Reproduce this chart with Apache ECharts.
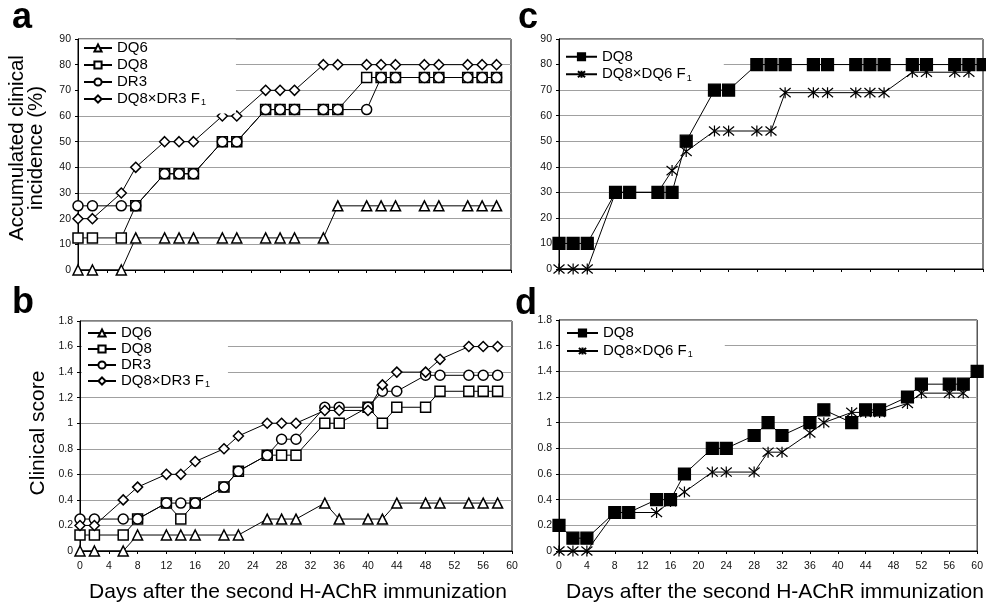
<!DOCTYPE html>
<html><head><meta charset="utf-8">
<script src="https://cdn.jsdelivr.net/npm/echarts@6/dist/echarts.min.js"></script>
<style>html,body{margin:0;padding:0;background:#fff}#c{width:986px;height:606px}</style>
</head><body><div id="c"></div>
<script>
// ---------- data ----------
const daysAB = [0,2,6,8,12,14,16,20,22,26,28,30,34,36,40,42,44,48,50,54,56,58];
// panel a: accumulated clinical incidence (%)
const incDQ6   = [0,0,0,12.5,12.5,12.5,12.5,12.5,12.5,12.5,12.5,12.5,12.5,25,25,25,25,25,25,25,25,25];
const incDQ8   = [12.5,12.5,12.5,25,37.5,37.5,37.5,50,50,62.5,62.5,62.5,62.5,62.5,75,75,75,75,75,75,75,75];
const incDR3   = [25,25,25,25,37.5,37.5,37.5,50,50,62.5,62.5,62.5,62.5,62.5,62.5,75,75,75,75,75,75,75];
const incDQ8DR3= [20,20,30,40,50,50,50,60,60,70,70,70,80,80,80,80,80,80,80,80,80,80];
// panel b: clinical score
const scDQ6    = [0,0,0,0.125,0.125,0.125,0.125,0.125,0.125,0.25,0.25,0.25,0.375,0.25,0.25,0.25,0.375,0.375,0.375,0.375,0.375,0.375];
const scDQ8    = [0.125,0.125,0.125,0.25,0.375,0.25,0.375,0.5,0.625,0.75,0.75,0.75,1.0,1.0,1.125,1.0,1.125,1.125,1.25,1.25,1.25,1.25];
const scDR3    = [0.25,0.25,0.25,0.25,0.375,0.375,0.375,0.5,0.625,0.75,0.875,0.875,1.125,1.125,1.125,1.25,1.25,1.375,1.375,1.375,1.375,1.375];
const scDQ8DR3 = [0.2,0.2,0.4,0.5,0.6,0.6,0.7,0.8,0.9,1.0,1.0,1.0,1.1,1.1,1.1,1.3,1.4,1.4,1.5,1.6,1.6,1.6];
// panels c, d
const daysCD  = [0,2,4,8,10,14,16,18,22,24,28,30,32,36,38,42,44,46,50,52,56,58,60];
const incCDQ8 = [10,10,10,30,30,30,30,50,70,70,80,80,80,80,80,80,80,80,80,80,80,80,80];
const incCF1  = [0,0,0,30,30,30,38.5,46,54,54,54,54,69,69,69,69,69,69,77,77,77,77];
const scDDQ8  = [0.2,0.1,0.1,0.3,0.3,0.4,0.4,0.6,0.8,0.8,0.9,1.0,0.9,1.0,1.1,1.0,1.1,1.1,1.2,1.3,1.3,1.3,1.4];
const scDF1   = [0,0,0,0.3,0.3,0.3,0.385,0.46,0.615,0.615,0.615,0.77,0.77,0.92,1.0,1.08,1.08,1.08,1.15,1.23,1.23,1.23];

const xTicks = {min:0, max:60, interval:4};
const nameDQ6 = 'DQ6', nameDQ8 = 'DQ8', nameDR3 = 'DR3', nameF1a = 'DQ8×DR3 F1', nameF1c = 'DQ8×DQ6 F1';

// ---------- helpers ----------
const FONT = '"Liberation Sans", Arial, Helvetica, sans-serif';
const STAR = 'path://M0,0L10,10M10,0L0,10M5,-1L5,11';
function pairs(days, vals){ return vals.map((v,i)=>[days[i], v]); }
function ser(panel, name, idx, days, vals, symbol, size, filled){
  return {
    type:'line', name: panel + ':' + name, xAxisIndex: idx, yAxisIndex: idx,
    data: pairs(days, vals), symbol: symbol, symbolSize: size, showSymbol:true,
    lineStyle:{color:'#000', width:1},
    itemStyle: filled ? {color:'#000', borderColor:'#000', borderWidth:1.2}
                      : {color:'#fff', borderColor:'#000', borderWidth:1.5},
    emphasis:{disabled:true}, z: 3
  };
}
function grid(left, top, width, height){
  return {left, top, width, height, show:true, borderColor:'#000', borderWidth:1, backgroundColor:'transparent'};
}
function xAxis(idx, labels){
  return {type:'value', gridIndex: idx, min:xTicks.min, max:xTicks.max, interval:xTicks.interval,
    axisLine:{show:true, lineStyle:{color:'#000', width:1}},
    axisTick:{show:true, length:3, lineStyle:{color:'#000'}},
    axisLabel:{show:labels, margin:10, fontSize:10.5, color:'#111', fontFamily:FONT},
    splitLine:{show:false}};
}
function yAxis(idx, max, interval){
  return {type:'value', gridIndex: idx, min:0, max, interval,
    axisLine:{show:true, lineStyle:{color:'#000', width:1}},
    axisTick:{show:true, length:3, lineStyle:{color:'#000'}},
    axisLabel:{margin:7, fontSize:10.5, color:'#111', fontFamily:FONT},
    splitLine:{show:true, lineStyle:{color:'#a0a0a0', width:1}}};
}
function legend(panel, names, left, top, pad, itemWidth, lineH){
  return {
    data: names.map(n => panel + ':' + n), orient:'vertical', left, top,
    padding: pad, backgroundColor:'#fff', itemGap:0, itemWidth, itemHeight:9,
    selectedMode:false,
    formatter: n => n.slice(2).replace(/ F1$/, ' F{sub|1}'),
    textStyle:{fontFamily:FONT, fontSize:15, color:'#000', lineHeight:lineH,
      rich:{sub:{fontSize:9, fontFamily:FONT, color:'#000', padding:[8,0,0,1]}}}
  };
}

const option = {
  animation:false,
  backgroundColor:'#fff',
  grid:[grid(78,39,433,231), grid(80,321,432,230), grid(559,39,424,230), grid(559,320,424,231)],
  xAxis:[xAxis(0,false), xAxis(1,true), xAxis(2,false), xAxis(3,true)],
  yAxis:[yAxis(0,90,10), yAxis(1,1.8,0.2), yAxis(2,90,10), yAxis(3,1.8,0.2)],
  legend:[
    legend('a',[nameDQ6,nameDQ8,nameDR3,nameF1a], 79, 39.5, [0,30,6,4], 28, 17),
    legend('b',[nameDQ6,nameDQ8,nameDR3,nameF1a], 82, 322, [3,18,4,5], 28, 16),
    legend('c',[nameDQ8,nameF1c], 560, 40, [8,32,0,5], 31, 17.5),
    legend('d',[nameDQ8,nameF1c], 560, 321, [3,32,4,6], 31, 18)
  ],
  series:[
    ser('a',nameDQ6,0,daysAB,incDQ6,'triangle',10,false),
    ser('a',nameDQ8,0,daysAB,incDQ8,'rect',10,false),
    ser('a',nameDR3,0,daysAB,incDR3,'circle',10,false),
    ser('a',nameF1a,0,daysAB,incDQ8DR3,'diamond',10,false),
    ser('b',nameDQ6,1,daysAB,scDQ6,'triangle',10,false),
    ser('b',nameDQ8,1,daysAB,scDQ8,'rect',10,false),
    ser('b',nameDR3,1,daysAB,scDR3,'circle',10,false),
    ser('b',nameF1a,1,daysAB,scDQ8DR3,'diamond',10,false),
    ser('c',nameDQ8,2,daysCD,incCDQ8,'rect',12,true),
    ser('c',nameF1c,2,daysCD,incCF1,STAR,11,true),
    ser('d',nameDQ8,3,daysCD,scDDQ8,'rect',12,true),
    ser('d',nameF1c,3,daysCD,scDF1,STAR,11,true)
  ],
  graphic:[
    {type:'text', x:12, y:18, style:{text:'a', font:'bold 36px '+FONT, fill:'#000', verticalAlign:'middle'}},
    {type:'text', x:12, y:303, style:{text:'b', font:'bold 36px '+FONT, fill:'#000', verticalAlign:'middle'}},
    {type:'text', x:518, y:18, style:{text:'c', font:'bold 36px '+FONT, fill:'#000', verticalAlign:'middle'}},
    {type:'text', x:515, y:304, style:{text:'d', font:'bold 36px '+FONT, fill:'#000', verticalAlign:'middle'}},
    {type:'text', x:27, y:148, rotation:Math.PI/2, style:{text:'Accumulated clinical\nincidence (%)', font:'20.5px '+FONT, lineHeight:19, fill:'#000', align:'center', verticalAlign:'middle'}},
    {type:'text', x:38, y:433, rotation:Math.PI/2, style:{text:'Clinical score', font:'21px '+FONT, fill:'#000', align:'center', verticalAlign:'middle'}},
    {type:'text', x:298, y:592, style:{text:'Days after the second H-AChR immunization', font:'21px '+FONT, fill:'#000', align:'center', verticalAlign:'middle'}},
    {type:'text', x:775, y:592, style:{text:'Days after the second H-AChR immunization', font:'21px '+FONT, fill:'#000', align:'center', verticalAlign:'middle'}}
  ]
};
const chart = echarts.init(document.getElementById('c'), null, {renderer:'canvas'});
chart.setOption(option);
</script></body></html>
